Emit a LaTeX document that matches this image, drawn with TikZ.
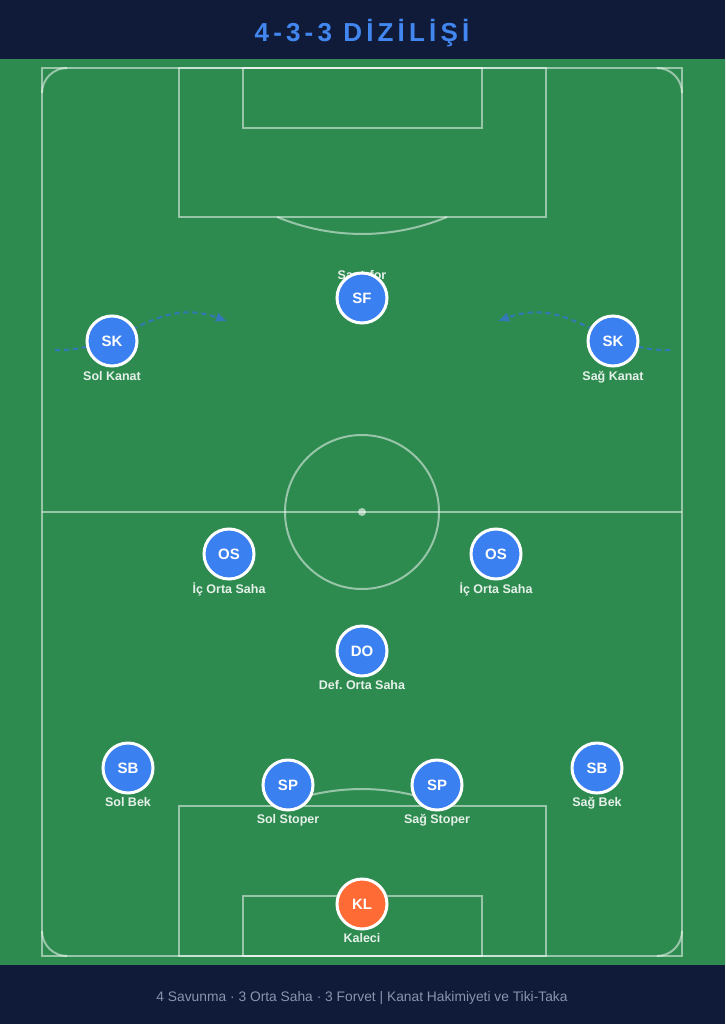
\documentclass[tikz,border=0pt]{standalone}
\usepackage{fontspec}
\setmainfont{Liberation Sans}
\newfontfamily\titlefont[LetterSpace=16]{Liberation Sans}
\usetikzlibrary{arrows.meta}
\frenchspacing

\definecolor{navy}{RGB}{16,27,58}
\definecolor{titleblue}{RGB}{66,135,240}
\definecolor{grassdark}{RGB}{46,139,80}
\definecolor{grasslight}{RGB}{54,161,91}
\definecolor{playerblue}{RGB}{59,128,240}
\definecolor{keeperorange}{RGB}{255,107,53}
\definecolor{footgrey}{RGB}{138,148,173}
\definecolor{runblue}{RGB}{52,120,185}

\tikzset{
    pitchline/.style={draw=white, draw opacity=0.5, line width=2pt},
    player/.style={circle, fill=playerblue, draw=white, line width=3pt, minimum size=50pt,
        inner sep=0pt, text=white, font=\bfseries\fontsize{15}{15}\selectfont},
    keeper/.style={player, fill=keeperorange},
    role/.style={anchor=base, text=white, text opacity=0.88, inner sep=0pt,
        font=\bfseries\fontsize{12.5}{13}\selectfont},
    run/.style={draw=runblue, line width=2pt, dash pattern=on 5pt off 4pt,
        -{Latex[length=11pt,width=10pt,fill=runblue]}},
}

\begin{document}
\begin{tikzpicture}[x=1pt,y=-1pt]
    \useasboundingbox (0,0) rectangle (725,1024);

    % Header and footer bands
    \fill[navy] (0,0) rectangle (725,60);
    \fill[navy] (0,964) rectangle (725,1024);
    \node[anchor=base, text=titleblue, inner sep=0pt] (title) at (362,42)
        {\titlefont\bfseries\fontsize{26}{26}\selectfont 4-3-3 DİZİLİŞİ};
    \node[anchor=base, text=footgrey, inner sep=0pt, font=\fontsize{13.8}{14}\selectfont] (footer) at (362,1001)
        {4 Savunma · 3 Orta Saha · 3 Forvet | Kanat Hakimiyeti ve Tiki-Taka};

    % Grass
    \shade[top color=grassdark, middle color=grasslight, bottom color=grassdark] (0,60) rectangle (725,964);

    % Pitch markings
    \draw[pitchline] (42,68) rectangle (682,956);
    \draw[pitchline] (42,93) arc (180:270:25);
    \draw[pitchline] (657,68) arc (270:360:25);
    \draw[pitchline] (42,931) arc (180:90:25);
    \draw[pitchline] (657,956) arc (90:0:25);
    \draw[pitchline] (42,512) -- (682,512);
    \draw[pitchline] (362,512) circle (77);
    \fill[white, opacity=0.6] (362,512) circle (4);
    % top box
    \draw[pitchline] (179,68) rectangle (546,217);
    \draw[pitchline] (243,68) rectangle (482,128);
    \draw[pitchline] (447,217) arc (67.4:112.6:221);
    % bottom box
    \draw[pitchline] (179,806) rectangle (546,956);
    \draw[pitchline] (243,896) rectangle (482,956);
    \draw[pitchline] (277,806) arc (247.4:292.6:221);

    % Winger runs
    \coordinate (lwIn) at (55,350);
    \coordinate (lwOut) at (227,321);
    \coordinate (rwIn) at (670,350);
    \coordinate (rwOut) at (498,321);
    \draw[run] (lwIn) .. controls (125,352) and (155,295) .. (lwOut);
    \draw[run] (rwIn) .. controls (600,352) and (570,295) .. (rwOut);

    % Forwards
    \node[role] (sfLabel) at (362,279) {Santrfor};
    \node[player] (sf) at (362,298) {SF};
    \node[player] (lw) at (112,341) {SK};
    \node[role] (lwLabel) at (112,380) {Sol Kanat};
    \node[player] (rw) at (613,341) {SK};
    \node[role] (rwLabel) at (613,380) {Sağ Kanat};

    % Midfield
    \node[player] (lcm) at (229,554) {OS};
    \node[role] (lcmLabel) at (229,593) {İç Orta Saha};
    \node[player] (rcm) at (496,554) {OS};
    \node[role] (rcmLabel) at (496,593) {İç Orta Saha};
    \node[player] (dm) at (362,651) {DO};
    \node[role] (dmLabel) at (362,689) {Def. Orta Saha};

    % Defence
    \node[player] (lb) at (128,768) {SB};
    \node[role] (lbLabel) at (128,806) {Sol Bek};
    \node[player] (rb) at (597,768) {SB};
    \node[role] (rbLabel) at (597,806) {Sağ Bek};
    \node[player] (lcb) at (288,785) {SP};
    \node[role] (lcbLabel) at (288,823) {Sol Stoper};
    \node[player] (rcb) at (437,785) {SP};
    \node[role] (rcbLabel) at (437,823) {Sağ Stoper};

    % Goalkeeper
    \node[keeper] (gk) at (362,904) {KL};
    \node[role] (gkLabel) at (362,942) {Kaleci};
\end{tikzpicture}
\end{document}
